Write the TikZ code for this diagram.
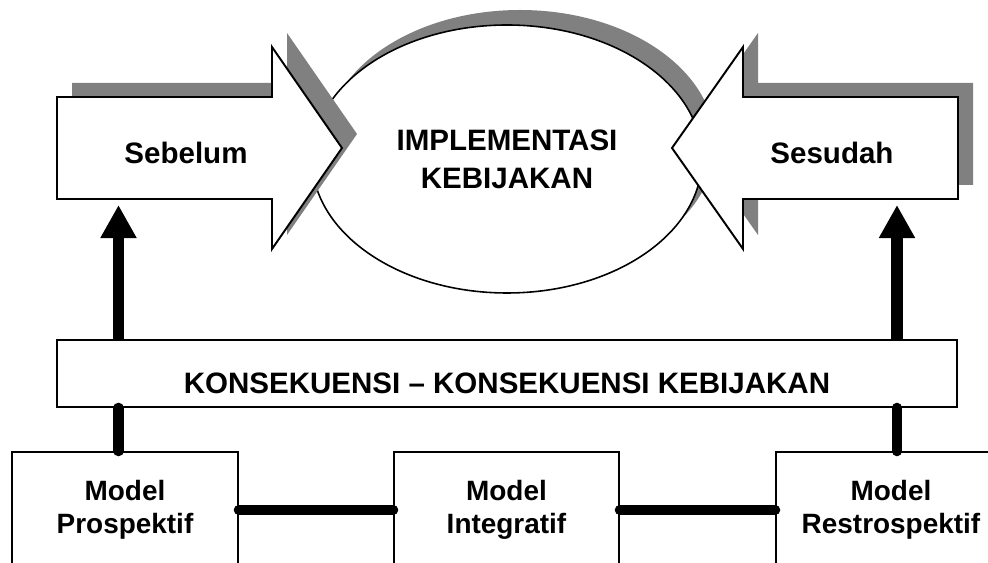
\documentclass[tikz,border=0pt]{standalone}
\usepackage{fontspec}
\setmainfont{Liberation Sans}
\usetikzlibrary{arrows.meta,shapes.geometric}

\newcommand{\panahkiri}{(1.14,9.32) -- (5.44,9.32) -- (5.44,10.32) -- (6.84,8.30) -- (5.44,6.28) -- (5.44,7.28) -- (1.14,7.28) -- cycle}
\newcommand{\panahkanan}{(19.16,9.32) -- (14.86,9.32) -- (14.86,10.32) -- (13.44,8.30) -- (14.86,6.28) -- (14.86,7.28) -- (19.16,7.28) -- cycle}

\begin{document}
\begin{tikzpicture}[
    kotak/.style={draw,line width=1.1pt,fill=white,inner sep=0pt},
    teks/.style={font=\fontsize{16.8}{21.6}\selectfont\bfseries,align=center},
    tekskecil/.style={font=\fontsize{15.9}{18.8}\selectfont\bfseries,align=center},
    bayang/.style={fill=gray},
    garis/.style={line width=6pt,line cap=round},
    panah/.style={line width=6.3pt,-{Triangle[width=19.3pt,length=18.8pt]}}
    ]
        \clip (0,0) rectangle (19.76,11.26);
        % elips di tengah
        \fill[bayang] (10.40,8.38) ellipse (3.9 and 2.68);
        \node[ellipse,draw,line width=0.9pt,fill=white,minimum width=7.8cm,minimum height=5.36cm,teks] (impl) at (10.14,8.08) {IMPLEMENTASI\\KEBIJAKAN};
        % panah besar kiri dan kanan
        \fill[bayang,shift={(0.30,0.28)}] \panahkiri;
        \fill[bayang,shift={(0.30,0.28)}] \panahkanan;
        \filldraw[fill=white,line width=1.1pt] \panahkiri;
        \filldraw[fill=white,line width=1.1pt] \panahkanan;
        \node[teks] (sebelum) at (3.72,8.20) {Sebelum};
        \node[teks] (sesudah) at (16.64,8.20) {Sesudah};
        \coordinate (ujungkiri) at (2.37,7.16);
        \coordinate (ujungkanan) at (17.94,7.16);
        % konsekuensi
        \node[kotak,minimum width=18cm,minimum height=1.34cm] (kons) at (10.14,3.79) {};
        \node[teks] (konsteks) at (10.14,3.59) {KONSEKUENSI -- KONSEKUENSI KEBIJAKAN};
        % model
        \node[kotak,tekskecil,minimum width=4.52cm,minimum height=2.32cm] (prosp) at (2.50,1.06) {Model\\Prospektif};
        \node[kotak,tekskecil,minimum width=4.50cm,minimum height=2.32cm] (integ) at (10.13,1.06) {Model\\Integratif};
        \node[kotak,tekskecil,minimum width=4.60cm,minimum height=2.32cm] (restro) at (17.82,1.06) {Model\\Restrospektif};
        % penghubung
        \draw[panah] (kons.north -| ujungkiri) -- (ujungkiri);
        \draw[panah] (kons.north -| ujungkanan) -- (ujungkanan);
        \draw[garis] (kons.south -| ujungkiri) -- (prosp.north -| ujungkiri);
        \draw[garis] (kons.south -| ujungkanan) -- (restro.north -| ujungkanan);
        \draw[garis] (prosp.east) -- (integ.west);
        \draw[garis] (integ.east) -- (restro.west);
    \end{tikzpicture}
\end{document}
